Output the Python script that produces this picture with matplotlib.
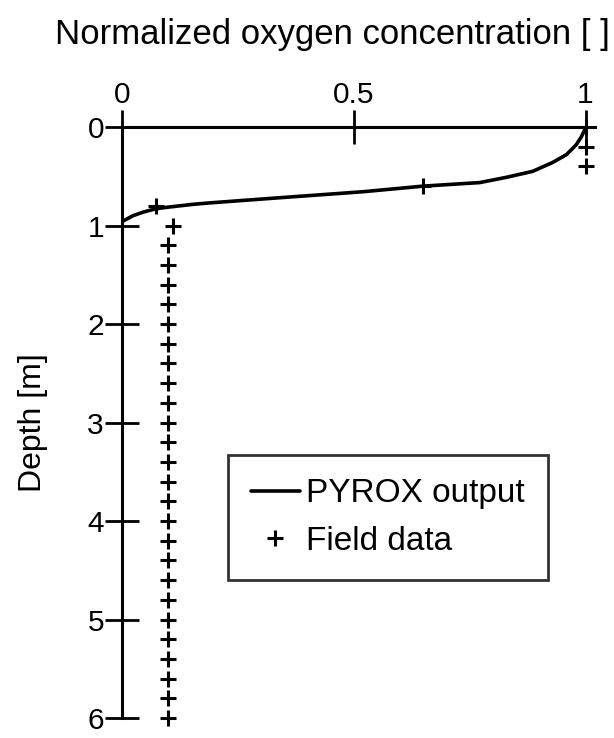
import numpy as np
import matplotlib
matplotlib.use("Agg")
import matplotlib.pyplot as plt

plt.rcParams["font.family"] = ["Liberation Sans", "DejaVu Sans"]

# PYROX model output (normalized O2 vs depth)
model_conc = [1.0, 0.998, 0.991, 0.98, 0.959, 0.929, 0.886, 0.83, 0.772, 0.65,
              0.52, 0.334, 0.19, 0.153, 0.097, 0.073, 0.045, 0.024, 0.002, 0.0]
model_depth = [0.0, 0.03, 0.10, 0.18, 0.28, 0.36, 0.45, 0.51, 0.564, 0.60,
               0.657, 0.72, 0.77, 0.785, 0.815, 0.83, 0.865, 0.90, 0.955, 0.97]

# field measurements
field_depth = [0.0, 0.2, 0.4, 0.6, 0.8, 1.0] + [round(1.2 + 0.2 * i, 1) for i in range(25)]
field_conc = [1.0, 1.0, 1.0, 0.65, 0.073, 0.11] + [0.10] * 25

xticks = [0, 0.5, 1]
xticklabels = ["0", "0.5", "1"]
yticks = [0, 1, 2, 3, 4, 5, 6]

fig = plt.figure(figsize=(6.14, 7.38), dpi=100)
ax = fig.add_axes([0.1987, 0.027, 0.770, 0.8009])

ax.plot(model_conc, model_depth, color="black", lw=2.6, label="PYROX output",
        solid_capstyle="round", solid_joinstyle="round")
ax.plot(field_conc, field_depth, linestyle="none", marker="+", markersize=11,
        mew=2.2, color="black", label="Field data", clip_on=False)

ax.set_xlim(0, 1.02)
ax.set_ylim(6, 0)

# only the left and top axes lines
for side in ["right", "bottom"]:
    ax.spines[side].set_visible(False)
for side in ["left", "top"]:
    ax.spines[side].set_linewidth(2.2)

ax.xaxis.tick_top()
ax.set_xticks(xticks)
ax.set_xticklabels(xticklabels)
ax.set_yticks(yticks)
ax.tick_params(direction="inout", length=24, width=2.0, labelsize=21.5, pad=1)

# axis title sits left of the axes centre in the original
fig.text(0.542, 0.953, "Normalized oxygen concentration [ ]", fontsize=25,
         ha="center", va="center")
ax.set_ylabel("Depth [m]", fontsize=23, labelpad=28)

leg = ax.legend(loc="upper left", bbox_to_anchor=(0.3713, 0.3835),
                bbox_transform=fig.transFigure, fontsize=24, frameon=True,
                fancybox=False, handlelength=1.45, handletextpad=0.2,
                borderpad=0.7, labelspacing=0.5, borderaxespad=0)
leg.get_frame().set_edgecolor("black")
leg.get_frame().set_linewidth(2.0)

fig.savefig("out.png", dpi=100)
